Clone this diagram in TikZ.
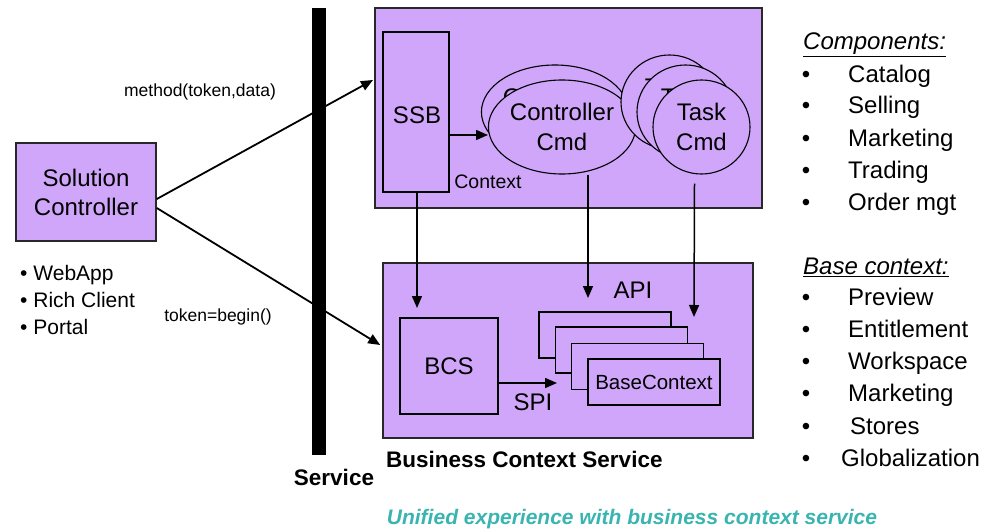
\documentclass[tikz,border=0pt]{standalone}
\usepackage{fontspec}
\setmainfont{Liberation Sans}
\usetikzlibrary{arrows.meta,calc,shapes.geometric}
\definecolor{boxfill}{RGB}{208,166,250}
\definecolor{edgegray}{RGB}{40,40,40}
\definecolor{captionteal}{RGB}{58,180,176}
\newcommand\setfs[2]{\fontsize{#1}{#2}\selectfont}

\begin{document}
\begin{tikzpicture}[x=1pt,y=-1pt,
  box/.style={draw=edgegray, fill=boxfill, line width=1.6pt, inner sep=0pt},
  inbox/.style={draw=black, fill=boxfill, line width=1.3pt, inner sep=0pt},
  cmdell/.style={ellipse, draw=black, fill=boxfill, line width=1.1pt,
    inner sep=0pt, minimum height=94pt, align=center, font=\setfs{24}{30}},
  arr/.style={-{Triangle[length=12pt,width=10pt]}, line width=1.5pt},
  lbl/.style={inner sep=0pt, font=\setfs{24}{29}},
  small/.style={inner sep=0pt, font=\setfs{17.5}{20}},
  item/.style={inner sep=0pt, anchor=base west, font=\setfs{24}{29}},
  dot/.style={inner sep=0pt, anchor=base, font=\setfs{24}{29}},
  litem/.style={inner sep=0pt, anchor=base west, font=\setfs{21}{27}},
  head/.style={inner sep=0pt, anchor=base west, font=\setfs{24}{29}\itshape}]

\useasboundingbox (0,0) rectangle (998,532);

% service boundary
\node[fill=black, inner sep=0pt, minimum width=14pt, minimum height=447pt] (bar) at (319,231.5) {};
\node[inner sep=0pt, font=\setfs{22.5}{26}\bfseries] (svc) at (334,477) {Service};

% client side
\node[box, minimum width=140pt, minimum height=98pt, align=center,
      font=\setfs{24}{29}] (sc) at (86,192) {Solution\\Controller};
\node[litem] (la) at (20,280.5) {• WebApp};
\node[litem] (lb) at (20,307.5) {• Rich Client};
\node[litem] (lc) at (20,334.5) {• Portal};

% upper service box
\node[box, line width=2pt, minimum width=387pt, minimum height=200pt] (top) at (568.5,108) {};
\node[inbox, minimum width=66pt, minimum height=160pt] (ssb) at (416,112) {};
\node[lbl] (ssbtext) at (417,115) {SSB};
\node[inner sep=0pt, font=\setfs{19.5}{22}] (ctx) at (488,182) {Context};

\node[cmdell, minimum width=129pt] (ctrlb) at (555,112) {Controller\\Cmd};
\node[cmdell, minimum width=132pt] (ctrl) at (562,127) {Controller\\Cmd};

\node[cmdell, minimum width=97pt] (taskc) at (669.5,102) {Task\\Cmd};
\node[cmdell, minimum width=97pt] (taskb) at (685.5,112) {Task\\Cmd};
\node[cmdell, minimum width=97pt] (task) at (701.5,127) {Task\\Cmd};

% lower service box
\node[box, minimum width=370pt, minimum height=175pt] (bot) at (568,350.5) {};
\node[inbox, minimum width=98pt, minimum height=96pt, font=\setfs{24}{29}] (bcs) at (449,366) {BCS};
\node[inbox, minimum width=132pt, minimum height=46pt] (bc1) at (605,335) {};
\node[inbox, minimum width=132pt, minimum height=46pt] (bc2) at (621.5,350) {};
\node[inbox, minimum width=132pt, minimum height=46pt] (bc3) at (637.5,366.5) {};
\node[inbox, minimum width=132pt, minimum height=46pt, font=\setfs{20.5}{24}] (bc4) at (654,382) {BaseContext};
\node[lbl] (api) at (633,290) {API};
\node[lbl] (spi) at (533,402) {SPI};
\node[inner sep=0pt, anchor=west, font=\setfs{22.5}{26}\bfseries] (bcsname) at (386,459) {Business Context Service};

% arrow end points
\coordinate (ssbout) at (488,135);
\coordinate (apiin) at (588,298);
\coordinate (taskin) at (694,317);
\coordinate (bcsin) at (417,308);
\coordinate (spiin) at (557,383);

% connectors
\draw[arr, line width=1.8pt] ($(sc.east)+(0,7)$) -- ($(top.west)+(-1,-28)$);
\draw[arr, line width=1.8pt] ($(sc.east)+(0,16)$) -- ($(bot.west)+(-2,-5.5)$);
\node[small] (m1) at (200,92) {method(token,data)};
\node[small] (m2) at (218,317) {token=begin()};

\draw[arr] ($(ssb.east)+(0,23)$) -- (ssbout);
\draw[arr] ($(ssb.south)+(1,0)$) -- (bcsin);
\draw[arr] ($(ctrl.south)+(26,0)$) -- (apiin);
\draw[arr] ($(task.south)+(-7,9)$) -- (taskin);
\draw[arr] ($(bcs.east)+(0,17)$) -- (spiin);

% component lists
\node[head] (h1) at (803,49.6) {\underline{Components:}};
\foreach \t/\y [count=\i] in {Catalog/74,Selling/105,Marketing/138,Trading/170,Order mgt/202}{
  \node[dot] (cd\i) at (806,\y+8.6) {•};
  \node[item] (ci\i) at (848,\y+8.6) {\t};
}
\node[head] (h2) at (803,274.6) {\underline{Base context:}};
\foreach \t/\x/\y [count=\i] in {Preview/848/297,Entitlement/848/329,Workspace/848/361,Marketing/848/393,Stores/850/426,Globalization/841/458}{
  \node[dot] (bd\i) at (806,\y+8.6) {•};
  \node[item] (bi\i) at (\x,\y+8.6) {\t};
}

% caption
\node[inner sep=0pt, text=captionteal, font=\setfs{21}{25}\bfseries\itshape] (cap) at (632,519)
  {Unified experience with business context service};
\end{tikzpicture}
\end{document}
